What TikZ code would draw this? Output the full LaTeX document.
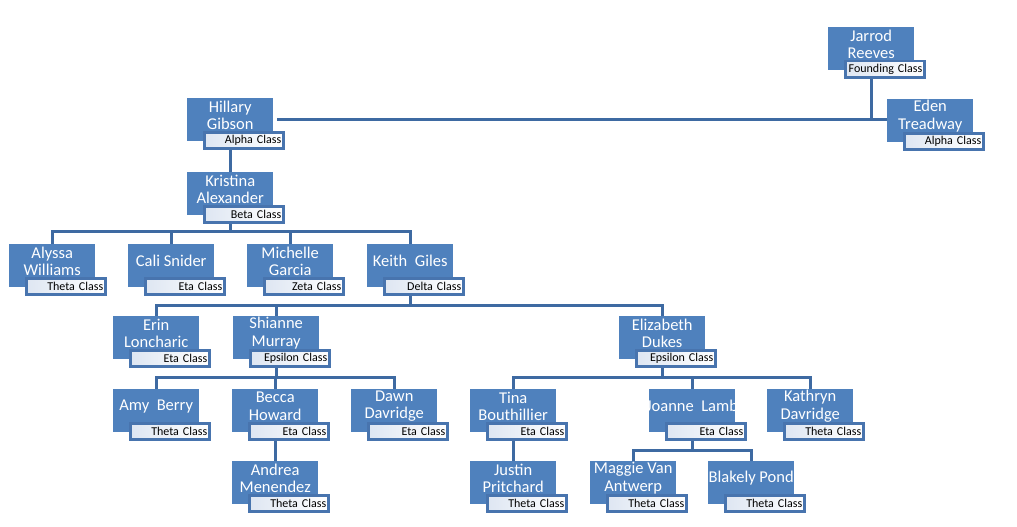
\documentclass[tikz,border=0pt]{standalone}
\usepackage{fontspec}
\setmainfont{Carlito}
\usetikzlibrary{backgrounds,calc}
\definecolor{boxblue}{RGB}{79,129,189}
\definecolor{lineblue}{RGB}{62,106,162}
\definecolor{lblborder}{RGB}{72,116,174}
\definecolor{lblshade}{RGB}{222,230,242}
\tikzset{
  mainbox/.style={fill=boxblue, minimum width=86pt, minimum height=43pt,
    inner sep=0pt, anchor=north west},
  nametext/.style={text=white, inner sep=0pt, align=center,
    font=\fontsize{16.5}{17.5}\selectfont},
  lblbox/.style={draw=lblborder, line width=2.5pt, left color=lblshade, right color=white,
    inner xsep=2pt, inner ysep=0pt, text width=75pt, align=right, minimum height=16pt,
    anchor=north west, text=black, font=\fontsize{12}{12}\selectfont},
  conn/.style={draw=lineblue, line width=3pt}
}
\newcommand{\person}[5]{%
  \node[mainbox] (#1) at (#2,#3) {};
  \node[nametext] (#1t) at ($(#1.center)+(0,-4.5)$) {#4};
  \node[lblbox] (#1l) at ($(#2,#3)+(16,33)$) {#5};
}
\begin{document}
\begin{tikzpicture}[x=1pt,y=-1pt]
\useasboundingbox (0,0) rectangle (1017,527);
\person{jr}{828}{27}{Jarrod\\Reeves}{Founding Class}
\person{hg}{187}{98}{Hillary\\Gibson}{Alpha Class}
\person{et}{887}{99}{Eden\\Treadway}{Alpha Class}
\person{ka}{187}{172}{Kristina\\Alexander}{Beta Class}
\person{aw}{9}{244}{Alyssa\\Williams}{Theta Class}
\person{cs}{128}{244}{Cali Snider}{Eta Class}
\person{mg}{247}{244}{Michelle\\Garcia}{Zeta Class}
\person{kg}{367}{244}{Keith\ \ Giles}{Delta Class}
\person{el}{113}{316}{Erin\\Loncharic}{Eta Class}
\person{sm}{233}{316}{Shianne\\Murray}{Epsilon Class}
\person{ed}{619}{316}{Elizabeth\\Dukes}{Epsilon Class}
\person{ab}{113}{389}{Amy\ \ Berry}{Theta Class}
\person{bh}{232}{389}{Becca\\Howard}{Eta Class}
\person{dd}{351}{389}{Dawn\\Davridge}{Eta Class}
\person{tb}{470}{389}{Tina\\Bouthillier}{Eta Class}
\person{jl}{649}{389}{Joanne\ \ Lamb}{Eta Class}
\person{kd}{767}{389}{Kathryn\\Davridge}{Theta Class}
\person{am}{232}{461}{Andrea\\Menendez}{Theta Class}
\person{jp}{470}{461}{Justin\\Pritchard}{Theta Class}
\person{mv}{590}{461}{Maggie Van\\Antwerp}{Theta Class}
\person{bp}{708}{461}{Blakely Pond}{Theta Class}
\coordinate (b1) at (0,231);
\coordinate (b2) at (0,305);
\coordinate (b3) at (0,377);
\coordinate (b5) at (0,450);
\begin{pgfonlayer}{background}
  \draw[conn] ([xshift=4pt]hg.east) -- (hg.east -| et.west);
  \draw[conn] (jr.center) -- (jr.center |- hg.east);
  \draw[conn] (hg.center) -- (ka.center);
  \foreach \c in {aw,cs,mg,kg}
    \draw[conn] (ka.center) -- (ka.center |- b1) -| (\c.center);
  \foreach \c in {el,sm,ed}
    \draw[conn] (kg.center) -- (kg.center |- b2) -| (\c.center);
  \foreach \c in {ab,bh,dd}
    \draw[conn] (sm.center) -- (sm.center |- b3) -| (\c.center);
  \foreach \c in {tb,jl,kd}
    \draw[conn] (ed.center) -- (ed.center |- b3) -| (\c.center);
  \draw[conn] (bh.center) -- (am.center);
  \draw[conn] (tb.center) -- (jp.center);
  \foreach \c in {mv,bp}
    \draw[conn] (jl.center) -- (jl.center |- b5) -| (\c.center);
\end{pgfonlayer}
\end{tikzpicture}
\end{document}
